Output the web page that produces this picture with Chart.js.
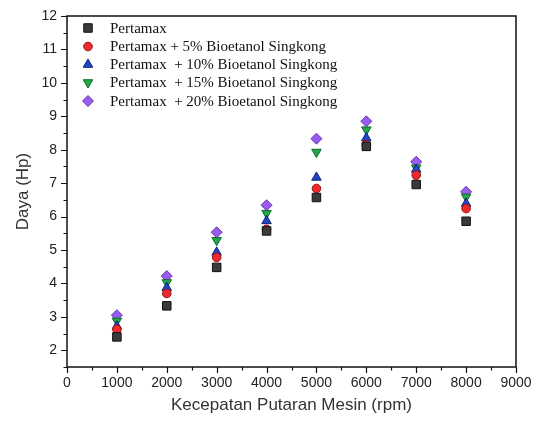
<!DOCTYPE html>
<html>
<head>
<meta charset="utf-8">
<script src="https://cdn.jsdelivr.net/npm/chart.js@4/dist/chart.umd.min.js"></script>
<style>
html,body{margin:0;padding:0;background:#fff;}
#wrap{width:538px;height:421px;position:relative;}
</style>
</head>
<body>
<div id="wrap"><canvas id="c" width="538" height="421"></canvas></div>
<script>
const rpm = [1000, 2000, 3000, 4000, 5000, 6000, 7000, 8000];
const pertamax   = [2.40, 3.33, 4.48, 5.57, 6.57, 8.10, 6.96, 5.86];
const bio5       = [2.63, 3.70, 4.78, 5.62, 6.84, 8.15, 7.24, 6.24];
const bio10      = [2.72, 3.87, 4.93, 5.87, 7.17, 8.35, 7.41, 6.39];
const bio15      = [2.88, 4.03, 5.29, 6.10, 7.93, 8.60, 7.46, 6.59];
const bio20      = [3.05, 4.22, 5.53, 6.34, 8.33, 8.85, 7.64, 6.74];
const seriesNames = ['Pertamax', 'Pertamax + 5% Bioetanol Singkong', 'Pertamax  + 10% Bioetanol Singkong', 'Pertamax  + 15% Bioetanol Singkong', 'Pertamax  + 20% Bioetanol Singkong'];
const xTicks = [0, 1000, 2000, 3000, 4000, 5000, 6000, 7000, 8000, 9000];
const yTicks = [2, 3, 4, 5, 6, 7, 8, 9, 10, 11, 12];

const seriesValues = [pertamax, bio5, bio10, bio15, bio20];
const styles = [
  {pointStyle:'rect', radius:6, rotation:0, bg:'#3a3a3a', border:'#111'},
  {pointStyle:'circle', radius:4.3, rotation:0, bg:'#ee2a2a', border:'#9a1010'},
  {pointStyle:'triangle', radius:5.5, rotation:0, bg:'#1f46c8', border:'#0d2477'},
  {pointStyle:'triangle', radius:5.5, rotation:180, bg:'#22a84a', border:'#0e6b2a'},
  {pointStyle:'rectRot', radius:5.5, rotation:0, bg:'#9a5cf0', border:'#6433b0'}
];

const datasets = seriesValues.map((vals, i) => ({
  label: seriesNames[i],
  data: rpm.map((x, j) => ({x: x, y: vals[j]})),
  pointStyle: styles[i].pointStyle,
  pointRadius: styles[i].radius,
  pointRotation: styles[i].rotation,
  backgroundColor: styles[i].bg,
  borderColor: styles[i].border,
  pointBorderWidth: 1,
  showLine: false
}));

const L = 67, R = 516, T = 16, B = 367;

const framePlugin = {
  id: 'frame',
  afterDraw(chart) {
    const ctx = chart.ctx;
    const xs = chart.scales.x, ys = chart.scales.y;
    const a = chart.chartArea;
    ctx.save();
    ctx.strokeStyle = '#111';
    ctx.lineWidth = 1.5;
    ctx.strokeRect(a.left, a.top, a.right - a.left, a.bottom - a.top);
    ctx.lineWidth = 1.2;
    ctx.beginPath();
    for (let v = 1.5; v <= 12.001; v += 0.5) {
      const py = Math.round(ys.getPixelForValue(v)) + 0.5;
      const major = Math.abs(v - Math.round(v)) < 1e-6;
      const len = major ? 6 : 3.5;
      ctx.moveTo(a.left, py); ctx.lineTo(a.left - len, py);
    }
    for (let v = 0; v <= 9000; v += 500) {
      const px = Math.round(xs.getPixelForValue(v)) + 0.5;
      const major = v % 1000 === 0;
      const len = major ? 6 : 3.5;
      ctx.moveTo(px, a.bottom); ctx.lineTo(px, a.bottom + len);
    }
    ctx.stroke();

    const rows = [28, 46.5, 64.5, 82.5, 101];
    ctx.font = '15px "Liberation Serif", "Times New Roman", serif';
    ctx.fillStyle = '#111';
    ctx.textBaseline = 'middle';
    ctx.textAlign = 'left';
    chart.data.datasets.forEach((ds, i) => {
      const y = rows[i];
      ctx.save();
      ctx.fillStyle = ds.backgroundColor;
      ctx.strokeStyle = ds.borderColor;
      ctx.lineWidth = 1;
      Chart.helpers.drawPoint(ctx, {pointStyle: ds.pointStyle, radius: ds.pointRadius, rotation: ds.pointRotation, borderWidth: 1}, 88, y);
      ctx.restore();
      ctx.fillText(ds.label, 110, y + 1);
    });
    ctx.restore();
  }
};

new Chart(document.getElementById('c'), {
  type: 'scatter',
  data: { datasets },
  options: {
    responsive: false,
    animation: false,
    layout: { padding: { left: 0, right: 538 - R, top: T, bottom: 0 } },
    plugins: { legend: { display: false }, tooltip: { enabled: false } },
    scales: {
      x: {
        type: 'linear', min: 0, max: 9000,
        afterBuildTicks: s => { s.ticks = xTicks.map(v => ({value: v})); },
        afterFit: s => { s.height = 421 - B; },
        grid: { display: false },
        border: { display: false },
        ticks: { color: '#222', padding: 0, maxRotation: 0, callback: v => String(v), font: { family: '"Liberation Sans", Arial, sans-serif', size: 14 } },
        title: { display: true, text: 'Kecepatan Putaran Mesin (rpm)', color: '#333', padding: { top: 4, bottom: 5 }, font: { family: '"Liberation Sans", Arial, sans-serif', size: 17 } }
      },
      y: {
        type: 'linear', min: 1.5, max: 12,
        afterBuildTicks: s => { s.ticks = yTicks.map(v => ({value: v})); },
        afterFit: s => { s.width = L; },
        grid: { display: false },
        border: { display: false },
        ticks: { color: '#222', padding: 2, font: { family: '"Liberation Sans", Arial, sans-serif', size: 14 } },
        title: { display: true, text: 'Daya (Hp)', color: '#333', padding: { top: 13, bottom: 4 }, font: { family: '"Liberation Sans", Arial, sans-serif', size: 17 } }
      }
    }
  },
  plugins: [framePlugin]
});
</script>
</body>
</html>
